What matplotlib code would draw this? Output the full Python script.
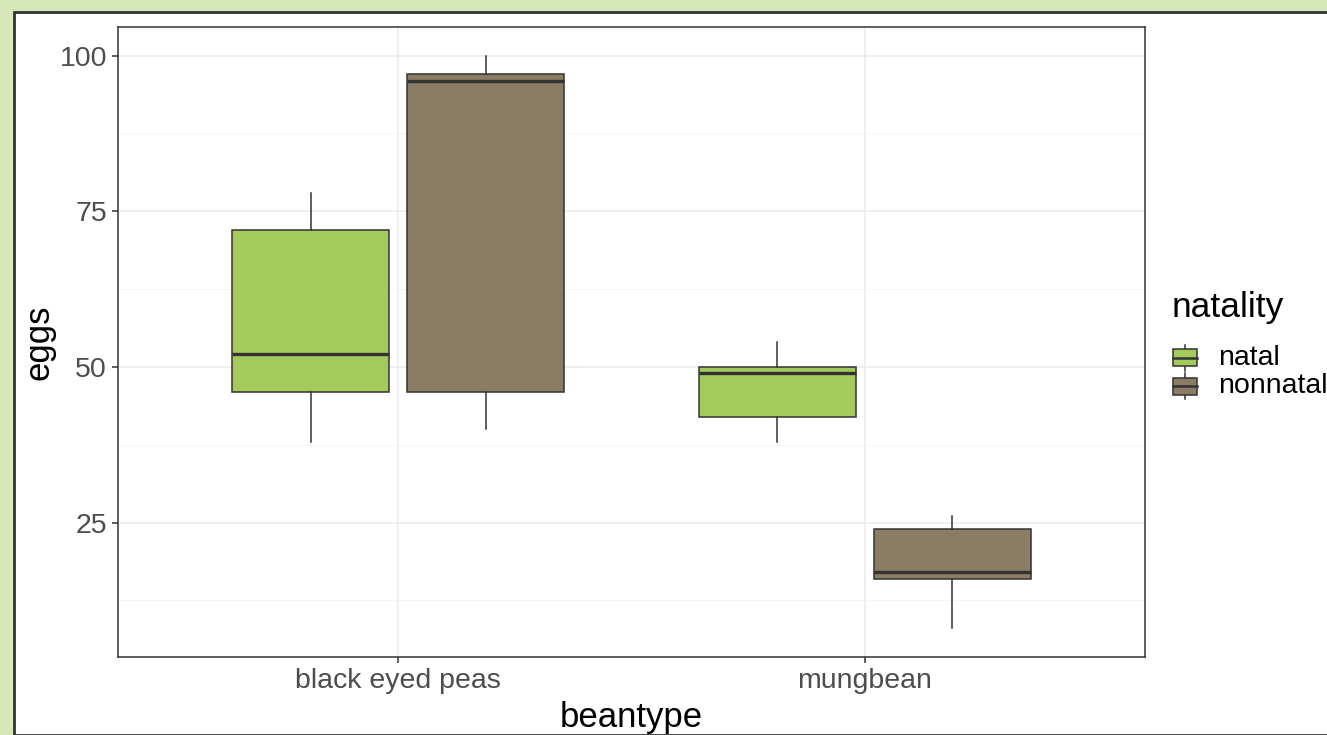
import matplotlib
matplotlib.use("Agg")
import matplotlib.pyplot as plt
from matplotlib.lines import Line2D
from matplotlib.patches import Patch, Rectangle
from matplotlib.legend_handler import HandlerBase

plt.rcParams["font.family"] = ["Liberation Sans", "DejaVu Sans"]

# data (boxplot summary values)
beantypes = ["black eyed peas", "mungbean"]
natality = ["natal", "nonnatal"]
colors = {"natal": "#a3cb5b", "nonnatal": "#8a7d64"}

whislo = {"natal": [38, 38], "nonnatal": [40, 8]}
q1 = {"natal": [46, 42], "nonnatal": [46, 16]}
med = {"natal": [52, 49], "nonnatal": [96, 17]}
q3 = {"natal": [72, 50], "nonnatal": [97, 24]}
whishi = {"natal": [78, 54], "nonnatal": [100, 26]}

EDGE = "#333333"


class BoxKey(HandlerBase):
    # ggplot-like legend key: small box with whisker and median
    def create_artists(self, legend, orig, xd, yd, width, height, fontsize, trans):
        cx = xd + width / 2
        w = width
        r = Rectangle((cx - w / 2, yd), w, height,
                      facecolor=orig.get_facecolor(), edgecolor=EDGE, lw=1.1, transform=trans)
        wl = Line2D([cx, cx], [yd - height * 0.25, yd + height * 1.25], color=EDGE, lw=1.1,
                    transform=trans)
        md = Line2D([cx - w / 2, cx + w / 2], [yd + height / 2] * 2, color=EDGE, lw=1.8,
                    transform=trans)
        return [wl, r, md]


W, H = 1327, 735
fig = plt.figure(figsize=(W / 100, H / 100), dpi=100)
fig.patch.set_facecolor("#d7e8b8")

# white screenshot frame
fig.patches.append(Rectangle((14 / W, 0), 1, 1 - 12 / H, transform=fig.transFigure,
                             facecolor="white", edgecolor=EDGE, lw=2, zorder=0))

ax = fig.add_axes([118 / W, 1 - 657 / H, (1145 - 118) / W, (657 - 27) / H])
ax.set_zorder(2)
ax.set_facecolor("white")

offsets = {"natal": -0.1875, "nonnatal": 0.1875}
for n in natality:
    stats = []
    for i, b in enumerate(beantypes):
        stats.append(dict(label=b, whislo=whislo[n][i], q1=q1[n][i], med=med[n][i],
                          q3=q3[n][i], whishi=whishi[n][i], fliers=[]))
    ax.bxp(stats, positions=[i + 1 + offsets[n] for i in range(len(beantypes))],
           widths=0.3375, patch_artist=True, showcaps=False, manage_ticks=False,
           boxprops=dict(facecolor=colors[n], edgecolor=EDGE, lw=1.1),
           whiskerprops=dict(color=EDGE, lw=1.1),
           medianprops=dict(color=EDGE, lw=2.4))

ax.set_xlim(0.4, 2.6)
ax.set_ylim(3.4, 104.6)
ax.set_xticks([1, 2])
ax.set_xticklabels(beantypes)
ax.set_yticks([25, 50, 75, 100])
ax.set_yticks([12.5, 37.5, 62.5, 87.5], minor=True)
ax.grid(True, which="major", color="#ebebeb", lw=1.1)
ax.grid(True, which="minor", axis="y", color="#f3f3f3", lw=0.6)
ax.set_axisbelow(True)
for s in ax.spines.values():
    s.set_color(EDGE)
    s.set_linewidth(1.1)
ax.tick_params(axis="both", which="major", colors=EDGE, length=4, width=1.1,
               labelsize=20.5, labelcolor="#4d4d4d", pad=4)
ax.tick_params(axis="both", which="minor", length=0)

ax.set_xlabel("beantype", fontsize=25, color="black", labelpad=5)
ax.set_ylabel("eggs", fontsize=25, color="black", labelpad=3)

fig.text(1172 / W, 1 - 307 / H, "natality", fontsize=25.5, va="center", ha="left")
handles = [Patch(facecolor=colors[n], edgecolor=EDGE) for n in natality]
leg = fig.legend(handles, natality, loc="upper left",
                 bbox_to_anchor=(1173 / W, 1 - 345 / H), frameon=False,
                 fontsize=20.5, handlelength=0.84, handleheight=0.55,
                 handletextpad=0.75, labelspacing=0.08, borderaxespad=0, borderpad=0,
                 handler_map={Patch: BoxKey()})
leg.set_zorder(3)

fig.savefig("out.png", dpi=100, facecolor=fig.get_facecolor())
